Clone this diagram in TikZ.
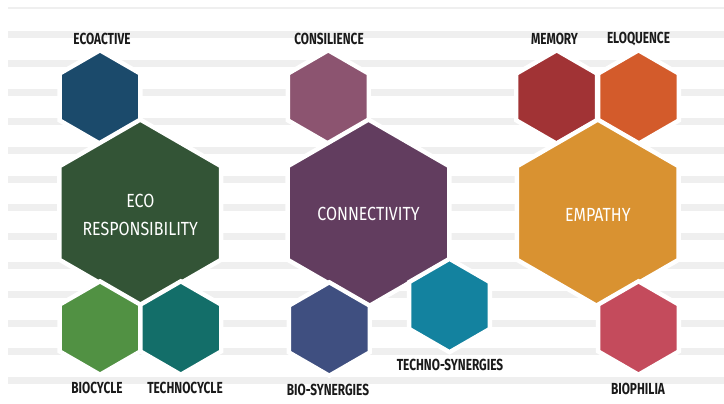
\documentclass[tikz,border=0pt]{standalone}
\usepackage{fontspec}
\setmainfont{Fira Sans}
\newfontfamily\lblfont{Fira Sans}[FakeStretch=0.74]
\newfontfamily\titlefont{Fira Sans}[FakeStretch=0.84]
\usetikzlibrary{shapes.geometric}

% palette
\definecolor{cEcoactive}{HTML}{1B4A6B}
\definecolor{cEco}{HTML}{335436}
\definecolor{cBiocycle}{HTML}{519143}
\definecolor{cTechnocycle}{HTML}{136E69}
\definecolor{cConsilience}{HTML}{8C5470}
\definecolor{cConnect}{HTML}{623D5F}
\definecolor{cBioSyn}{HTML}{3F4F80}
\definecolor{cTechnoSyn}{HTML}{13829F}
\definecolor{cMemory}{HTML}{A13335}
\definecolor{cEloquence}{HTML}{D35B2B}
\definecolor{cEmpathy}{HTML}{D99231}
\definecolor{cBiophilia}{HTML}{C44B5C}
\definecolor{cStripe}{HTML}{EFEFEF}
\definecolor{cInk}{HTML}{1A1A1A}

\tikzset{
  hex/.style={regular polygon, regular polygon sides=6, shape border rotate=30,
              draw=white, line width=4.4pt, inner sep=0pt, outer sep=0pt},
  hexS/.style={hex, minimum size=93.4pt},
  hexB/.style={hex, minimum size=186.8pt},
  lbl/.style={font=\lblfont\bfseries\fontsize{16}{16}\selectfont, text=cInk, inner sep=0pt},
  title/.style={font=\titlefont\fontsize{19}{28}\selectfont, text=white, align=center, inner sep=0pt},
  stripe/.style={fill=cStripe, draw=none},
}

\begin{document}
\begin{tikzpicture}[x=1pt,y=-1pt]
  \useasboundingbox (0,0) rectangle (724,404);
  \fill[white] (0,0) rectangle (724,404);

  % ruled background
  \draw[cStripe, line width=1.2pt] (8,8) -- (724,8);
  \foreach \k in {0,...,12}
    \fill[stripe] (8,{31.5+28.8*\k}) rectangle (724,{38.5+28.8*\k});

  % eco responsibility cluster
  \node[hexS, fill=cEcoactive]   (ecoactive)   at (100,97)    {};
  \node[hexB, fill=cEco]         (eco)         at (140.3,213) {};
  \node[hexS, fill=cBiocycle]    (biocycle)    at (100,328)   {};
  \node[hexS, fill=cTechnocycle] (technocycle) at (180.8,328) {};

  % connectivity cluster
  \node[hexS, fill=cConsilience] (consilience) at (328.3,97)  {};
  \node[hexB, fill=cConnect]     (connect)     at (368.5,213) {};
  \node[hexS, fill=cBioSyn]      (biosyn)      at (329.3,329) {};
  \node[hexS, fill=cTechnoSyn]   (technosyn)   at (449.5,305.5) {};

  % empathy cluster
  \node[hexS, fill=cMemory]      (memory)      at (556.7,97)  {};
  \node[hexS, fill=cEloquence]   (eloquence)   at (638.5,97)  {};
  \node[hexB, fill=cEmpathy]     (empathy)     at (597.8,213) {};
  \node[hexS, fill=cBiophilia]   (biophilia)   at (638.5,328) {};

  % titles
  \node[title] (eco-t)     at ([yshift=-1.5pt]eco.center) {ECO\\RESPONSIBILITY};
  \node[title] (connect-t) at ([yshift=-1pt]connect.center) {CONNECTIVITY};
  \node[title] (empathy-t) at ([yshift=-2pt]empathy.center) {EMPATHY};

  % labels
  \node[lbl] (ecoactive-l)   at (102,38.5)  {ECOACTIVE};
  \node[lbl] (consilience-l) at (329,38.5)  {CONSILIENCE};
  \node[lbl] (memory-l)      at (554.5,38.5) {MEMORY};
  \node[lbl] (eloquence-l)   at (638.5,38.5) {ELOQUENCE};
  \node[lbl] (biocycle-l)    at (97,388)    {BIOCYCLE};
  \node[lbl] (technocycle-l) at (185,388)   {TECHNOCYCLE};
  \node[lbl] (biosyn-l)      at (328,390)   {BIO-SYNERGIES};
  \node[lbl] (technosyn-l)   at (450,365)   {TECHNO-SYNERGIES};
  \node[lbl] (biophilia-l)   at (638,389)   {BIOPHILIA};
\end{tikzpicture}
\end{document}
